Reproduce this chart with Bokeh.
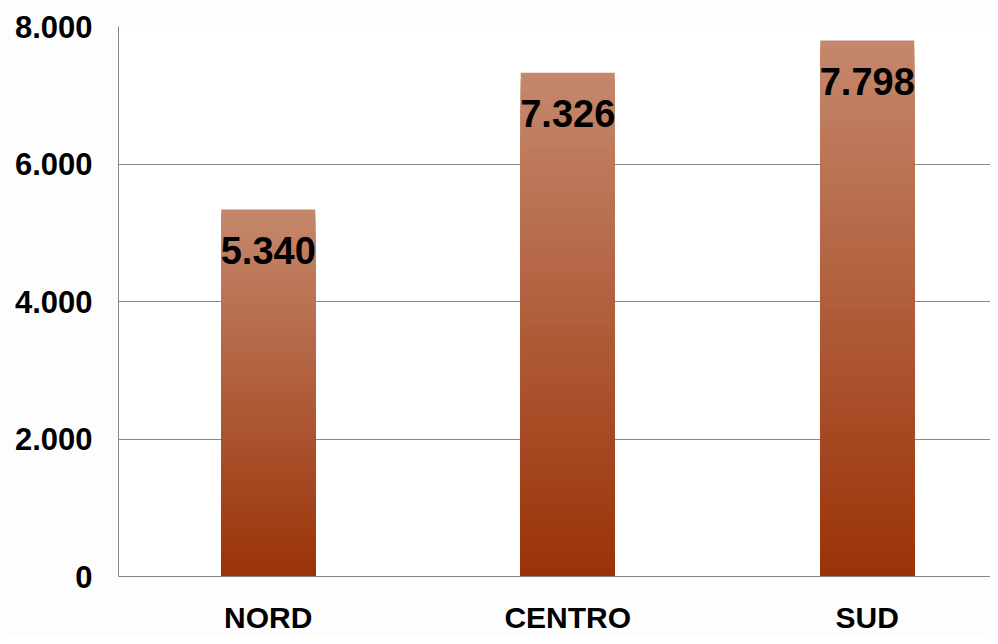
import numpy as np
from bokeh.plotting import figure
from bokeh.models import Range1d, FixedTicker, ColumnDataSource
from bokeh.core.properties import value
from bokeh.embed import file_html
from bokeh.resources import INLINE

categories = ["NORD", "CENTRO", "SUD"]
values = [5340, 7326, 7798]
value_labels = ["5.340", "7.326", "7.798"]
y_ticks = [0, 2000, 4000, 6000, 8000]
y_tick_labels = ["0", "2.000", "4.000", "6.000", "8.000"]

FONT = "Liberation Sans"
top_rgb = np.array([197, 136, 108])
bot_rgb = np.array([154, 50, 8])

p = figure(width=990, height=636, output_backend="svg", toolbar_location=None,
           x_range=Range1d(0.5, 0.5 + 872 / 299.5), y_range=Range1d(0, 8000),
           min_border_left=118, min_border_right=0, min_border_top=26, min_border_bottom=60,
           background_fill_color="#FFFFFF", border_fill_color="#FDFDFD")
p.outline_line_color = None

xs = list(range(1, len(categories) + 1))
N = 80
bx, bt, bc = [], [], []
for i in range(N - 1, -1, -1):
    c = bot_rgb + (top_rgb - bot_rgb) * ((i + 0.5) / N)
    col = "#%02x%02x%02x" % tuple(int(round(k)) for k in c)
    for x, v in zip(xs, values):
        bx.append(x); bt.append(v * (i + 1) / N); bc.append(col)
p.vbar(x=bx, bottom=0, top=bt, width=0.314, fill_color=bc, line_color=None)

src = ColumnDataSource(dict(x=xs, y=values, t=value_labels))
p.text(x="x", y="y", text="t", source=src, text_align="center", text_baseline="alphabetic",
       y_offset=41, text_font=value(FONT), text_font_style="bold", text_font_size="38px",
       text_color="black")

p.xaxis.ticker = FixedTicker(ticks=xs)
p.xaxis.major_label_overrides = {x: c for x, c in zip(xs, categories)}
p.yaxis.ticker = FixedTicker(ticks=y_ticks)
p.yaxis.major_label_overrides = {t: l for t, l in zip(y_ticks, y_tick_labels)}
for ax in (p.xaxis, p.yaxis):
    ax.major_tick_line_color = None
    ax.minor_tick_line_color = None
    ax.axis_line_color = "#888888"
    ax.major_label_text_font = FONT
    ax.major_label_text_font_style = "bold"
    ax.major_label_text_color = "black"
p.yaxis.major_label_text_font_size = "31px"
p.yaxis.major_label_standoff = 20
p.xaxis.major_label_text_font_size = "30px"
p.xaxis.major_label_standoff = 18
p.xgrid.grid_line_color = None
p.ygrid.grid_line_color = "#888888"
p.ygrid.grid_line_width = 1

open("out.html", "w").write(file_html(p, INLINE))
